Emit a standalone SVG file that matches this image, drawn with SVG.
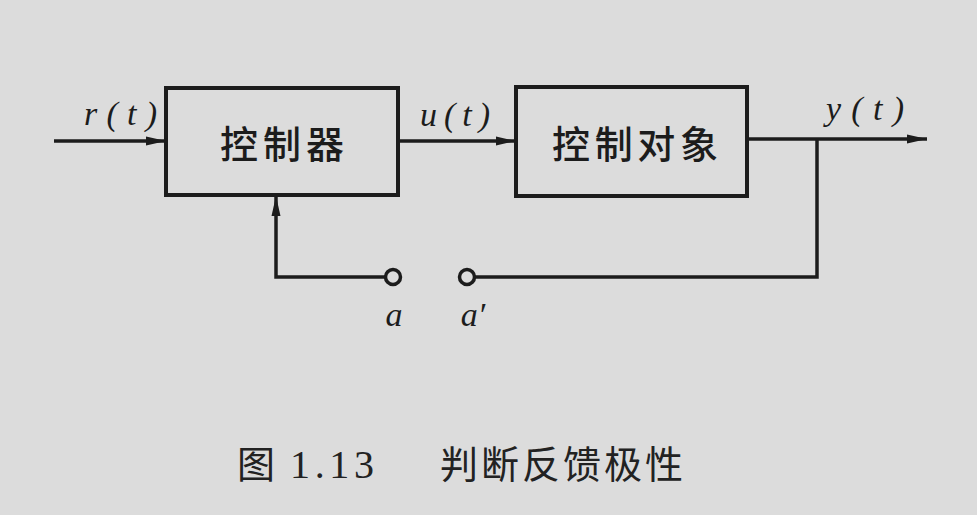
<svg xmlns="http://www.w3.org/2000/svg" width="977" height="515" viewBox="0 0 977 515">
<defs>
<marker id="arr" viewBox="0 0 20 12" refX="20" refY="6" markerWidth="20" markerHeight="12" markerUnits="userSpaceOnUse" orient="auto">
<path d="M0,1.5 L20,6 L0,10.5 Z" fill="#1c1c1c"/>
</marker>
</defs>
<style>
.ln{fill:none;stroke:#1c1c1c;stroke-width:3.5}
.box{fill:none;stroke:#1c1c1c;stroke-width:4}
.cjk{font-family:"Noto Sans CJK SC",sans-serif;fill:#1c1c1c;font-weight:500}
.var{font-family:"Liberation Serif",serif;font-style:italic;fill:#1c1c1c;font-size:34px}
.cap{font-family:"Noto Sans CJK SC",serif;fill:#222;font-size:38px}
</style>
<rect width="977" height="515" fill="#dcdcdc"/>
<g id="controller">
<rect class="box" x="166" y="88" width="232" height="107"/>
<text class="cjk" x="282" y="141" font-size="38" text-anchor="middle" dominant-baseline="central" textLength="124">控制器</text>
</g>
<g id="plant">
<rect class="box" x="516" y="87" width="231" height="109"/>
<text class="cjk" x="635" y="141" font-size="38" text-anchor="middle" dominant-baseline="central" textLength="166">控制对象</text>
</g>
<g id="terminal-a">
<circle cx="393" cy="277" r="7.5" fill="#dcdcdc" stroke="#1c1c1c" stroke-width="3.5"/>
<text class="var" x="394" y="326" text-anchor="middle">a</text>
</g>
<g id="terminal-a-prime">
<circle cx="467" cy="277" r="7.5" fill="#dcdcdc" stroke="#1c1c1c" stroke-width="3.5"/>
<text class="var" x="473" y="326" text-anchor="middle">a′</text>
</g>
<g id="connectors">
<line class="ln" x1="54" y1="141" x2="166" y2="141" marker-end="url(#arr)"/>
<line class="ln" x1="398" y1="141" x2="516" y2="141" marker-end="url(#arr)"/>
<line class="ln" x1="747" y1="139" x2="927" y2="139" marker-end="url(#arr)"/>
<polyline class="ln" points="817,139 817,277 475,277"/>
<polyline class="ln" points="385,277 276,277 276,196" marker-end="url(#arr)"/>
</g>
<g id="labels">
<text class="var" x="84" y="125" textLength="73" lengthAdjust="spacing">r(t)</text>
<text class="var" x="420" y="126" textLength="70" lengthAdjust="spacing">u(t)</text>
<text class="var" x="826" y="120" textLength="78" lengthAdjust="spacing">y(t)</text>
</g>
<g id="caption">
<text class="cap" x="237" y="478">图</text>
<text x="290" y="478" font-family="Liberation Serif,serif" font-size="40" fill="#222" textLength="84" lengthAdjust="spacing">1.13</text>
<text class="cap" x="440" y="478" textLength="243">判断反馈极性</text>
</g>
</svg>
